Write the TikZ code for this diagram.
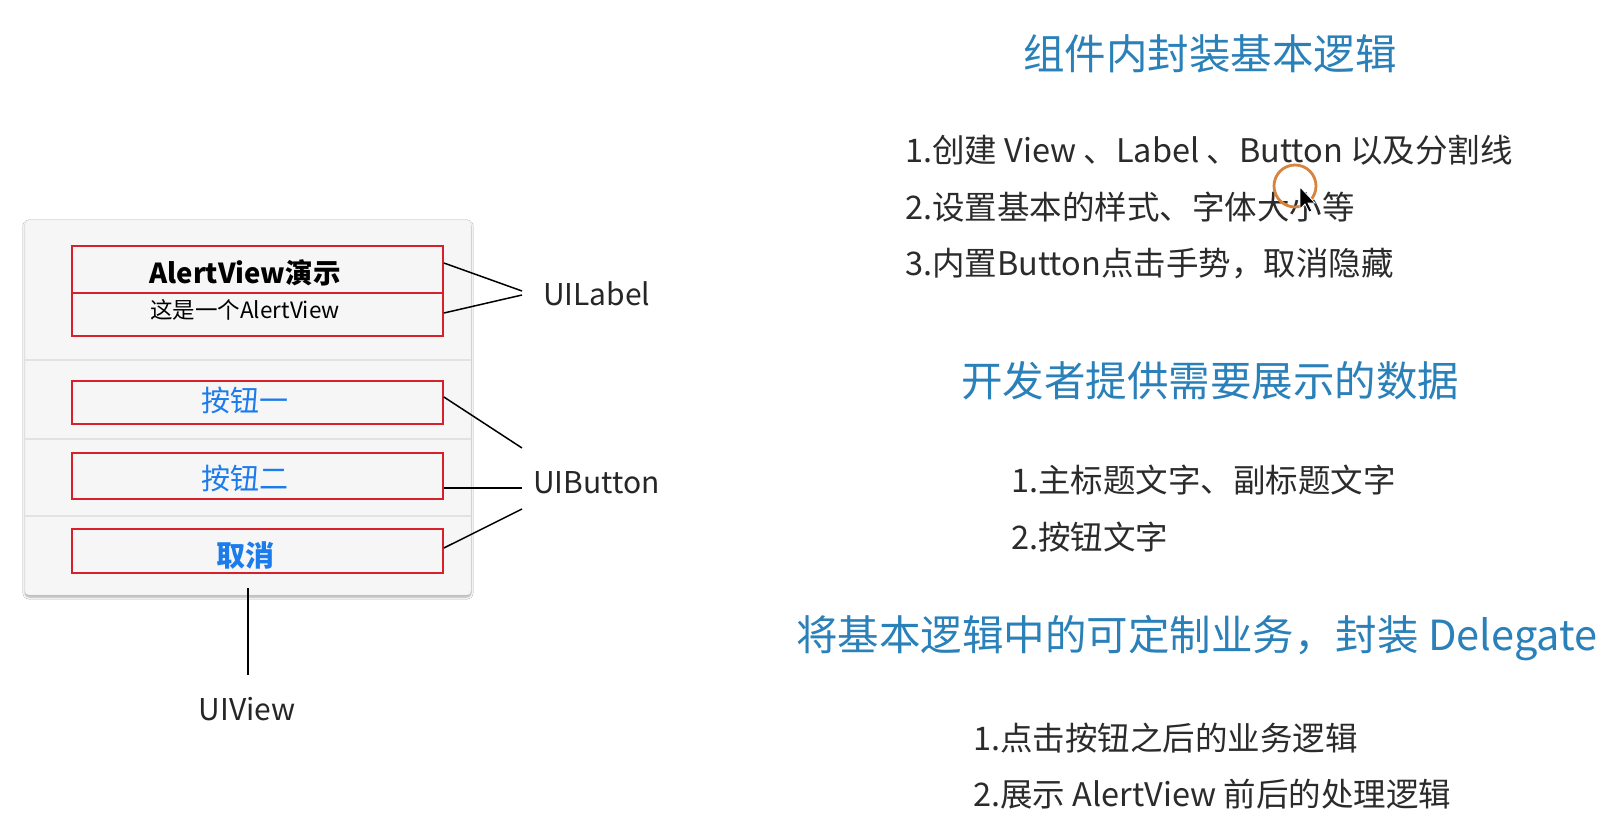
\documentclass[tikz,border=0pt]{standalone}
\usepackage{fontspec}
\setmainfont{Noto Sans CJK SC}
\usetikzlibrary{calc,shadows.blur}
\definecolor{titleblue}{HTML}{2A80B9}
\definecolor{iosblue}{HTML}{1C7CEB}
\definecolor{itemgray}{HTML}{2B2B2B}
\definecolor{boxred}{HTML}{D8202A}
\definecolor{panelbg}{HTML}{F6F6F6}
\definecolor{sepgray}{HTML}{E2E2E2}
\definecolor{ringorange}{HTML}{D9843C}
\tikzset{
  redbox/.style={draw=boxred, line width=1.8pt, minimum width=371pt, inner sep=0pt},
  conn/.style={draw=black, line width=1.5pt},
  title/.style={text=titleblue, font=\fontsize{41.5}{45}\selectfont, inner sep=0pt},
  item/.style={text=itemgray, font=\fontsize{32.5}{36}\selectfont, anchor=west, inner sep=0pt},
  tag/.style={text=black!85, font=\fontsize{30}{34}\selectfont, inner sep=0pt},
  btntext/.style={text=iosblue, font=\fontsize{29}{32}\selectfont, inner sep=0pt},
}
\begin{document}
\begin{tikzpicture}[x=1pt,y=-1pt]
\useasboundingbox (0,0) rectangle (1622,840);
\fill[white] (0,0) rectangle (1622,840);
% panel
\node[fill=panelbg, draw=black!12, rounded corners=4pt, minimum width=446pt, minimum height=375pt,
  blur shadow={shadow xshift=0pt, shadow yshift=-2pt, shadow blur steps=6, shadow opacity=35}] (panel) at (248,407.5) {};
\draw[sepgray, line width=1.2pt] (25,360) -- (471,360);
\draw[sepgray, line width=1.2pt] (25,439) -- (471,439);
\draw[sepgray, line width=1.2pt] (25,516) -- (471,516);
% red boxes
\node[redbox, minimum height=47pt] (t1) at (257.5,269.5) {};
\node[redbox, minimum height=43pt] (t2) at (257.5,314.5) {};
\node[redbox, minimum height=43pt] (b1) at (257.5,402.5) {};
\node[redbox, minimum height=46pt] (b2) at (257.5,476) {};
\node[redbox, minimum height=44pt] (b3) at (257.5,551) {};
% texts
\node[font=\fontsize{27.5}{30}\selectfont\bfseries, inner sep=0pt] (t1txt) at (245,273) {AlertView演示};
\node[font=\fontsize{22.5}{25}\selectfont, inner sep=0pt] (t2txt) at (245,310) {这是一个AlertView};
\node[btntext] (b1txt) at (245,400) {按钮一};
\node[btntext] (b2txt) at (245,478) {按钮二};
\node[btntext, font=\fontsize{29}{32}\selectfont\bfseries] (b3txt) at (245,555) {取消};
% tags
\node[tag, anchor=west] (uilabel) at (543,294) {UILabel};
\node[tag, anchor=west] (uibutton) at (533,483) {UIButton};
\node[tag] (uiview) at (247,709) {UIView};
\coordinate (bj1) at (522,448);
\coordinate (bj2) at (522,488);
\coordinate (bj3) at (522,509);
\coordinate (vj) at (248,675);
\draw[conn] ($(t1.east)+(0,-6.5)$) -- (522,291);
\draw[conn] ($(t2.east)+(0,-1.5)$) -- (522,295);
\draw[conn] ($(b1.east)+(0,-5.5)$) -- (bj1);
\draw[conn] ($(b2.east)+(0,12)$) -- (bj2);
\draw[conn] ($(b3.east)+(0,-3)$) -- (bj3);
\draw[conn] (248,588) -- (vj);
% right side
\node[title] (h1) at (1210,54) {组件内封装基本逻辑};
\node[item] (i11) at (905,150) {1.创建 View 、Label 、Button 以及分割线};
\node[item] (i12) at (905,207) {2.设置基本的样式、字体大小等};
\node[item] (i13) at (905,264) {3.内置Button点击手势，取消隐藏};
\node[title] (h2) at (1210,381) {开发者提供需要展示的数据};
\node[item] (i21) at (1011,480) {1.主标题文字、副标题文字};
\node[item] (i22) at (1011,537) {2.按钮文字};
\node[title] (h3) at (1197,638) {将基本逻辑中的可定制业务，封装 Delegate};
\node[item] (i31) at (973,738) {1.点击按钮之后的业务逻辑};
\node[item] (i32) at (973,794) {2.展示 AlertView 前后的处理逻辑};
% cursor ring and pointer
\draw[ringorange, line width=2.8pt] (1295,186) circle[radius=21];
\filldraw[fill=black, draw=white, line width=0.8pt] (1300,187) -- (1300,209) -- (1305,204) -- (1309,212) -- (1312,211) -- (1308,203) -- (1315,203) -- cycle;
\end{tikzpicture}
\end{document}
